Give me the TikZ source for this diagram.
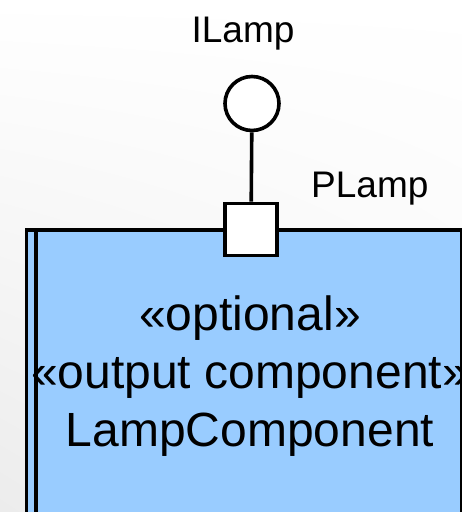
\documentclass[tikz,border=0pt]{standalone}
\usepackage{fontspec}
\setmainfont{Liberation Sans}
\usetikzlibrary{shadings}
\definecolor{compblue}{RGB}{153,204,255}
\definecolor{bgshade}{RGB}{236,236,236}
\begin{document}
\begin{tikzpicture}[x=1pt,y=-1pt,
  outline/.style={draw=black,line width=3.6pt},
  compbox/.style={outline,fill=compblue},
  portbox/.style={outline,fill=white,minimum size=52pt,inner sep=0pt,rectangle},
  lollipop/.style={outline,fill=white,circle,minimum size=54pt,inner sep=0pt},
  lbl/.style={font=\fontsize{37}{40}\selectfont,inner sep=0pt},
  stereo/.style={font=\fontsize{48}{58}\selectfont,align=center,inner sep=0pt}
]
% canvas with a faint diagonal shade
\useasboundingbox (0,0) rectangle (462,512);
\clip (0,0) rectangle (462,512);
\shade[upper right=white,upper left=white,lower right=white!60!bgshade,lower left=bgshade]
  (0,0) rectangle (462,512);

% component body (runs past the lower edge)
\node[compbox,rectangle,anchor=north west,minimum width=435.5pt,minimum height=320pt,inner sep=0pt]
  (comp) at (24.5,228) {};
\draw[outline] (36,228) -- (36,540);

% stereotypes and name
\node[stereo,anchor=base] (complabel) at (250,446)
  {«optional»\\«output component»\\LampComponent};

% provided interface and port
\node[lollipop] (iface) at (252,103.5) {};
\node[portbox] (port) at (251,229.5) {};
\draw[outline] (iface) -- (port);

\node[lbl,anchor=base] (ifacelabel) at (243,42) {ILamp};
\node[lbl,anchor=base west] (portlabel) at (311,197) {PLamp};
\end{tikzpicture}
\end{document}
